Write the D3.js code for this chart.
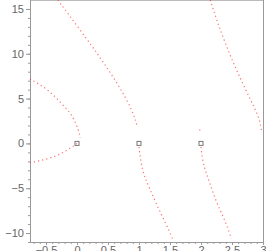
<!DOCTYPE html>
<html>
<head>
<meta charset="utf-8">
<script src="https://cdn.jsdelivr.net/npm/d3@7/dist/d3.min.js"></script>
<style>
  body { margin: 0; background: #fff; }
  svg { display: block; }
  .tick text { font-family: "Liberation Sans", Arial, sans-serif; font-size: 11px; fill: #666; }
</style>
</head>
<body>
<script>
var WIDTH = 266, HEIGHT = 251;
var LEFT = 30, RIGHT = 263, TOP = 0, BOTTOM = 242;

// x and y ticks
var xTicks = [-0.5, 0, 0.5, 1, 1.5, 2, 2.5, 3];
var xTickLabels = ["\u22120.5", "0", "0.5", "1", "1.5", "2", "2.5", "3"];
var yTicks = [-10, -5, 0, 5, 10, 15];
var yTickLabels = ["\u221210", "\u22125", "0", "5", "10", "15"];

// square markers
var markX = [0, 1, 2];
var markY = [0, 0, 0];

// dotted branches
var leftUpperX = [-0.76, -0.47, -0.26, -0.10, -0.02, 0.04, 0.05];
var leftUpperY = [7.19, 6.07, 4.51, 3.39, 2.28, 1.16, 0.6];
var leftLowerX = [0.0, -0.10, -0.26, -0.47, -0.76];
var leftLowerY = [0.0, -0.51, -1.18, -1.74, -2.19];
var midUpperX = [-0.31, 0.05, 0.37, 0.68, 0.90, 0.97];
var midUpperY = [16.0, 12.66, 9.64, 6.4, 3.62, 1.94];
var midLowerX = [1.0, 1.02, 1.05, 1.10, 1.17, 1.27, 1.38, 1.49, 1.55];
var midLowerY = [-0.4, -1.5, -2.8, -3.9, -5.0, -6.6, -8.2, -9.8, -10.8];
var rightUpperX = [2.15, 2.25, 2.39, 2.55, 2.72, 2.86, 2.95, 2.98];
var rightUpperY = [16.0, 13.8, 11.2, 8.5, 6.0, 4.0, 2.6, 1.2];
var rightLowerX = [2.0, 2.02, 2.05, 2.09, 2.14, 2.20, 2.27, 2.36, 2.43, 2.49];
var rightLowerY = [-0.4, -1.6, -2.6, -3.4, -4.4, -5.6, -6.9, -8.2, -9.4, -10.6];
var strayX = [1.98];
var strayY = [1.5];

var x = d3.scaleLinear().domain([-0.758, 3]).range([LEFT, RIGHT]);
var y = d3.scaleLinear().domain([-11, 16]).range([BOTTOM, TOP]);

var svg = d3.select("body").append("svg")
    .attr("width", WIDTH)
    .attr("height", HEIGHT);

// frame top and right
svg.append("line").attr("x1", LEFT).attr("x2", RIGHT).attr("y1", 0.5).attr("y2", 0.5)
    .attr("stroke", "#bbb");
svg.append("line").attr("x1", RIGHT + 0.5).attr("x2", RIGHT + 0.5).attr("y1", 0).attr("y2", BOTTOM)
    .attr("stroke", "#999");

// minor ticks
svg.append("g").attr("transform", "translate(" + LEFT + ",0)")
    .call(d3.axisLeft(y).tickValues(d3.range(-11, 16, 1)).tickSize(2).tickSizeOuter(0).tickFormat(""))
    .call(g => g.selectAll("line,path").attr("stroke", "#999"));
svg.append("g").attr("transform", "translate(0," + BOTTOM + ")")
    .call(d3.axisBottom(x).tickValues(d3.range(-7, 31, 1).map(d => d / 10)).tickSize(2).tickSizeOuter(0).tickFormat(""))
    .call(g => g.selectAll("line,path").attr("stroke", "#999"));

// major ticks
svg.append("g").attr("transform", "translate(" + LEFT + ",0)")
    .call(d3.axisLeft(y).tickValues(yTicks).tickSize(4).tickSizeOuter(0).tickPadding(2)
      .tickFormat((d, i) => yTickLabels[i]))
    .call(g => g.selectAll("line,path").attr("stroke", "#999"));
svg.append("g").attr("transform", "translate(0," + BOTTOM + ")")
    .call(d3.axisBottom(x).tickValues(xTicks).tickSize(3).tickSizeOuter(0).tickPadding(1)
      .tickFormat((d, i) => xTickLabels[i]))
    .call(g => g.selectAll("line,path").attr("stroke", "#999"));

// dotted branches
var line = d3.line().curve(d3.curveBasis)
    .x(d => x(d[0])).y(d => y(d[1]));
var branches = [
  [leftUpperX, leftUpperY], [leftLowerX, leftLowerY],
  [midUpperX, midUpperY], [midLowerX, midLowerY],
  [rightUpperX, rightUpperY], [rightLowerX, rightLowerY]
];
svg.append("g").selectAll("path")
  .data(branches.map(b => b[0].map((v, i) => [v, b[1][i]])))
  .enter().append("path")
    .attr("d", line)
    .attr("fill", "none")
    .attr("stroke", "#f33")
    .attr("stroke-opacity", 0.7)
    .attr("stroke-width", 1.2)
    .attr("stroke-dasharray", "1.2,3");

svg.append("g").selectAll("rect.stray")
  .data(strayX.map((v, i) => [v, strayY[i]]))
  .enter().append("rect")
    .attr("x", d => x(d[0]) - 0.6).attr("y", d => y(d[1]) - 0.6)
    .attr("width", 1.2).attr("height", 1.2)
    .attr("fill", "#f33").attr("fill-opacity", 0.7);

// square markers
svg.append("g").selectAll("rect.mark")
  .data(markX.map((v, i) => [v, markY[i]]))
  .enter().append("rect")
    .attr("x", d => x(d[0]) - 2).attr("y", d => y(d[1]) - 2)
    .attr("width", 4).attr("height", 4)
    .attr("fill", "none")
    .attr("stroke", "#777")
    .attr("stroke-width", 1);
</script>
</body>
</html>
